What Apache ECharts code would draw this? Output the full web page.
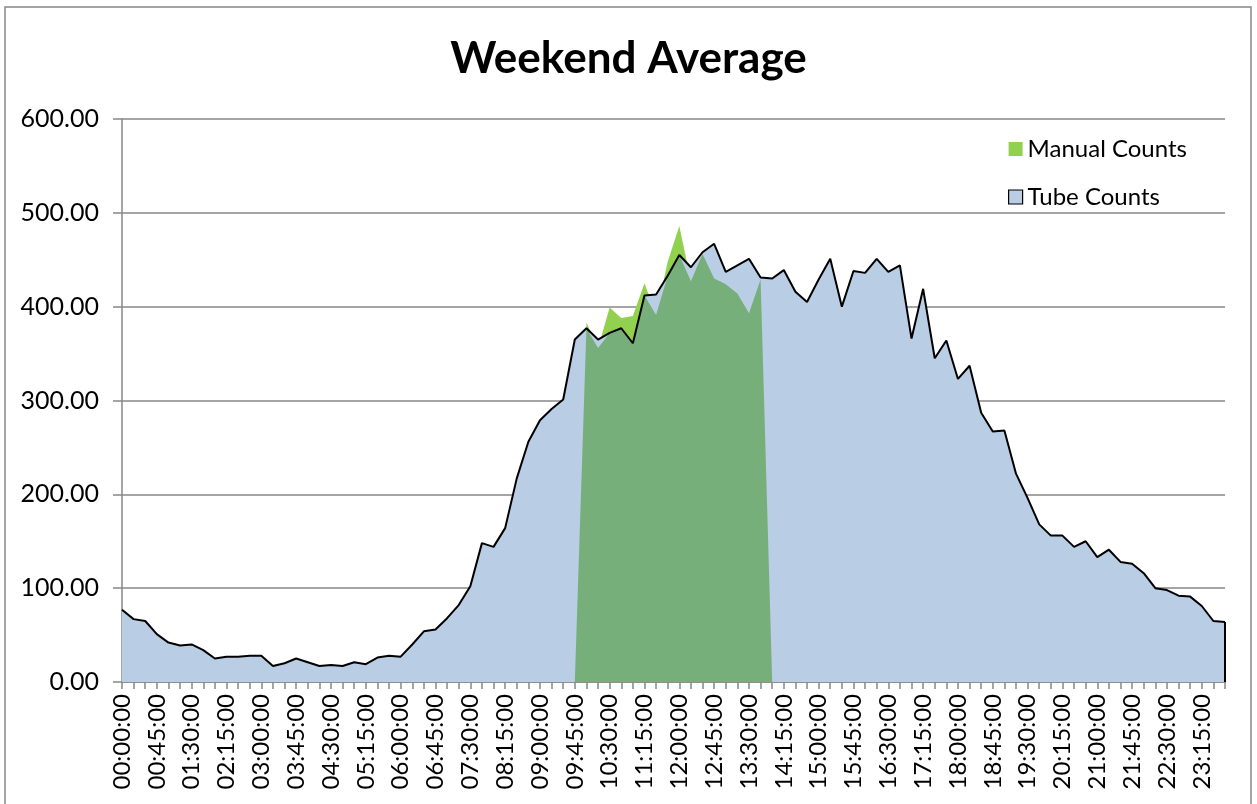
<!DOCTYPE html>
<html>
<head>
<meta charset="utf-8">
<script src="https://cdn.jsdelivr.net/npm/echarts@6/dist/echarts.min.js"></script>
<style>
  html, body { margin: 0; padding: 0; background: #fff; }
  #chart { width: 1257px; height: 804px; }
</style>
</head>
<body>
<div id="chart"></div>
<script>
// Time categories (every 15 minutes)
const times = [];
for (let h = 0; h < 24; h++) {
  for (let m = 0; m < 60; m += 15) {
    times.push(String(h).padStart(2, '0') + ':' + String(m).padStart(2, '0') + ':00');
  }
}

// Tube Counts
const tubeCounts = [
  77, 67, 65, 51, 42, 39, 40, 34, 25, 27, 27, 28,
  28, 17, 20, 25, 21, 17, 18, 17, 21, 19, 26, 28,
  27, 40, 54, 56, 68, 82, 102, 148, 144, 164, 217, 256,
  279, 291, 301, 365, 377, 365, 372, 377, 361, 412, 413, 433,
  455, 442, 458, 467, 437, 444, 451, 431, 430, 439, 416, 405,
  429, 451, 400, 438, 436, 451, 437, 444, 366, 419, 345, 364,
  323, 337, 287, 267, 268, 222, 196, 168, 156, 156, 144, 150,
  133, 141, 128, 126, 116, 100, 98, 92, 91, 81, 65, 64
];

// Manual Counts (only counted between 09:45 and 14:00)
const manualCounts = [
  null, null, null, null, null, null, null, null, null, null, null, null,
  null, null, null, null, null, null, null, null, null, null, null, null,
  null, null, null, null, null, null, null, null, null, null, null, null,
  null, null, null, 0, 383, 356, 399, 388, 390, 425, 391, 448,
  486, 427, 456, 430, 424, 414, 393, 429, 0, null, null, null,
  null, null, null, null, null, null, null, null, null, null, null, null,
  null, null, null, null, null, null, null, null, null, null, null, null,
  null, null, null, null, null, null, null, null, null, null, null, null
];

const yTicks = [0, 100, 200, 300, 400, 500, 600];

// Overlap of the two areas (shown darker)
const overlap = manualCounts.map((m, i) => (m == null ? null : Math.min(m, tubeCounts[i])));

const FONT = 'Lato';
const GRAY = '#878787';
const lastIdx = times.length - 1;

const chart = echarts.init(document.getElementById('chart'), null, { renderer: 'canvas' });
chart.setOption({
  animation: false,
  backgroundColor: '#ffffff',
  title: {
    text: 'Weekend Average',
    left: 'center',
    top: 32,
    textStyle: { fontFamily: FONT, fontWeight: 'bold', fontSize: 44, color: '#000' }
  },
  legend: {
    orient: 'vertical',
    left: 1003,
    top: 132,
    itemWidth: 14,
    itemHeight: 14,
    itemGap: 24,
    icon: 'rect',
    textStyle: { fontFamily: FONT, fontSize: 24, color: '#000', lineHeight: 24 },
    data: [
      { name: 'Manual Counts', itemStyle: { color: '#92D050', borderWidth: 0 } },
      { name: 'Tube Counts', itemStyle: { color: '#B9CDE5', borderColor: '#000', borderWidth: 1.2 } }
    ]
  },
  graphic: [{
    type: 'rect',
    silent: true,
    shape: { x: 5, y: 7, width: 1246, height: 830 },
    style: { fill: 'none', stroke: GRAY, lineWidth: 1.5 },
    z: 100
  }],
  grid: { left: 122, right: 32, top: 119, bottom: 122, containLabel: false, outerBoundsMode: 'none' },
  xAxis: {
    type: 'category',
    data: times,
    boundaryGap: false,
    axisLine: { lineStyle: { color: GRAY, width: 1.5 } },
    axisTick: { show: true, interval: 0, length: 7, lineStyle: { color: GRAY, width: 1.5 } },
    axisLabel: {
      interval: 2,
      rotate: 90,
      margin: 12,
      fontFamily: FONT,
      fontSize: 24,
      color: '#000'
    },
    splitLine: { show: false }
  },
  yAxis: {
    type: 'value',
    min: yTicks[0],
    max: yTicks[yTicks.length - 1],
    interval: 100,
    axisLine: { show: true, lineStyle: { color: GRAY, width: 1.5 } },
    axisTick: { show: true, length: 9, lineStyle: { color: GRAY, width: 1.5 } },
    axisLabel: {
      margin: 23,
      fontFamily: FONT,
      fontSize: 25,
      color: '#000',
      formatter: v => v.toFixed(2)
    },
    splitLine: { lineStyle: { color: GRAY, width: 1.5 } }
  },
  series: [
    {
      name: 'Manual Counts',
      type: 'line',
      data: manualCounts,
      symbol: 'none',
      lineStyle: { width: 0, opacity: 0 },
      areaStyle: { color: '#92D050', opacity: 1 },
      itemStyle: { color: '#92D050' },
      z: 2
    },
    {
      name: 'Tube Counts',
      type: 'line',
      data: tubeCounts,
      symbol: 'none',
      lineStyle: { width: 0, opacity: 0 },
      areaStyle: { color: '#B9CDE5', opacity: 1 },
      itemStyle: { color: '#B9CDE5' },
      z: 3
    },
    {
      name: 'overlap',
      type: 'line',
      data: overlap,
      symbol: 'none',
      lineStyle: { width: 0, opacity: 0 },
      areaStyle: { color: '#77AF7A', opacity: 1 },
      z: 4
    },
    {
      name: 'tubeLine',
      type: 'line',
      data: tubeCounts,
      symbol: 'none',
      lineStyle: { color: '#000', width: 2 },
      itemStyle: { color: '#000' },
      z: 5,
      markLine: {
        silent: true,
        symbol: 'none',
        label: { show: false },
        lineStyle: { color: '#000', width: 2, type: 'solid' },
        data: [[
          { coord: [times[lastIdx], 0] },
          { coord: [times[lastIdx], tubeCounts[lastIdx]] }
        ]]
      }
    }
  ]
});
</script>
</body>
</html>
